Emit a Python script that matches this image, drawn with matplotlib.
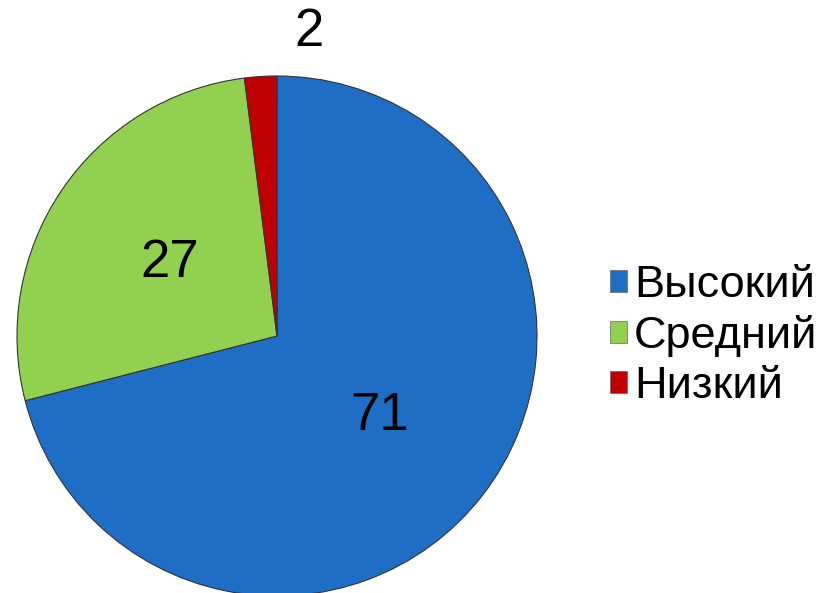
import matplotlib
matplotlib.use("Agg")
import matplotlib.pyplot as plt
import numpy as np

categories = ["Высокий", "Средний", "Низкий"]
values = [71, 27, 2]
colors = ["#1F6EC6", "#92D050", "#C00000"]

plt.rcParams['font.family'] = ['Liberation Sans', 'DejaVu Sans']

W, H = 835, 593
fig = plt.figure(figsize=(W / 100, H / 100), dpi=100)
cx, cy, R = 277, 336, 260
ax = fig.add_axes([(cx - R) / W, (H - cy - R) / H, 2 * R / W, 2 * R / H])
wedges, _ = ax.pie(values, colors=colors, startangle=90, counterclock=False,
                   radius=1.0, wedgeprops=dict(edgecolor="#333333", linewidth=0.8))
ax.set_xlim(-1, 1)
ax.set_ylim(-1, 1)
ax.set_aspect("equal")
ax.axis("off")

for w, v in zip(wedges, values):
    mid = np.deg2rad((w.theta1 + w.theta2) / 2)
    if v < 5:
        x, y = 0.123, 1.17
    else:
        x, y = 0.5 * np.cos(mid), 0.5 * np.sin(mid)
    ax.text(x, y, str(v), ha="center", va="center", fontsize=38, color="black",
            clip_on=False)

leg = fig.legend(wedges, categories, loc="center left",
                 bbox_to_anchor=(610 / W, 1 - 336 / H), frameon=False,
                 fontsize=32.5, handlelength=0.38, handleheight=0.38,
                 handletextpad=0.15, labelspacing=0.2, borderaxespad=0,
                 borderpad=0)
for h in leg.legend_handles:
    h.set_edgecolor("#666666")
    h.set_linewidth(0.5)

fig.savefig("out.png", dpi=100, facecolor="white")
